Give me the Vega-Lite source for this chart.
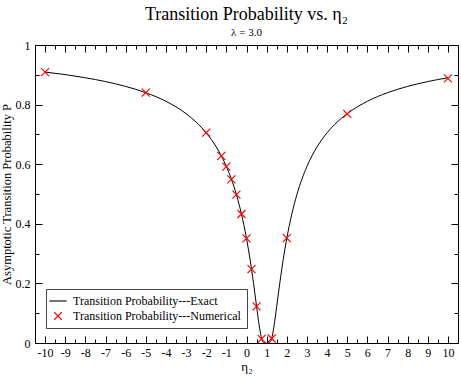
{
  "$schema": "https://vega.github.io/schema/vega-lite/v6.json",
  "width": 423,
  "height": 298,
  "padding": {"left": 0, "top": 6, "right": 3, "bottom": 2},
  "background": "white",
  "title": {
    "text": "Transition Probability vs. η₂",
    "subtitle": "λ = 3.0",
    "anchor": "middle",
    "frame": "group",
    "font": "Liberation Serif",
    "fontSize": 18,
    "fontWeight": "normal",
    "subtitleFont": "Liberation Serif",
    "subtitleFontSize": 11,
    "subtitlePadding": 3,
    "offset": 1,
    "color": "black",
    "subtitleColor": "black"
  },
  "datasets": {
    "exact": [
      {"eta": -10, "P": 0.9092}, {"eta": -9, "P": 0.9006}, {"eta": -8, "P": 0.8901},
      {"eta": -7, "P": 0.8773}, {"eta": -6, "P": 0.8611}, {"eta": -5, "P": 0.8399},
      {"eta": -4, "P": 0.8111}, {"eta": -3, "P": 0.7697}, {"eta": -2.5, "P": 0.7414},
      {"eta": -2, "P": 0.7053}, {"eta": -1.5, "P": 0.6578}, {"eta": -1.25, "P": 0.6279},
      {"eta": -1, "P": 0.5924}, {"eta": -0.75, "P": 0.5497}, {"eta": -0.5, "P": 0.4975},
      {"eta": -0.25, "P": 0.4327}, {"eta": 0, "P": 0.3509}, {"eta": 0.1, "P": 0.3124},
      {"eta": 0.25, "P": 0.2475}, {"eta": 0.35, "P": 0.1997}, {"eta": 0.4, "P": 0.1746},
      {"eta": 0.5, "P": 0.1231}, {"eta": 0.6, "P": 0.0729}, {"eta": 0.7, "P": 0.0305},
      {"eta": 0.75, "P": 0.0152}, {"eta": 0.8, "P": 0.0053}, {"eta": 0.85, "P": 0.0009},
      {"eta": 0.9, "P": 0.0}, {"eta": 1.0, "P": 0.0}, {"eta": 1.1, "P": 0.0},
      {"eta": 1.15, "P": 0.0009}, {"eta": 1.2, "P": 0.0053}, {"eta": 1.25, "P": 0.0152},
      {"eta": 1.3, "P": 0.0305}, {"eta": 1.4, "P": 0.0729}, {"eta": 1.5, "P": 0.1231},
      {"eta": 1.6, "P": 0.1746}, {"eta": 1.65, "P": 0.1997}, {"eta": 1.75, "P": 0.2475},
      {"eta": 1.9, "P": 0.3124}, {"eta": 2, "P": 0.3509}, {"eta": 2.25, "P": 0.4327},
      {"eta": 2.5, "P": 0.4975}, {"eta": 3, "P": 0.5924}, {"eta": 3.5, "P": 0.6578},
      {"eta": 4, "P": 0.7053}, {"eta": 4.5, "P": 0.7414}, {"eta": 5, "P": 0.7697},
      {"eta": 6, "P": 0.8111}, {"eta": 7, "P": 0.8399}, {"eta": 8, "P": 0.8611},
      {"eta": 9, "P": 0.8773}, {"eta": 10, "P": 0.8901}
    ],
    "num": [
      {"eta": -10, "P": 0.909, "series": "Transition Probability---Numerical"},
      {"eta": -5, "P": 0.840, "series": "Transition Probability---Numerical"},
      {"eta": -2, "P": 0.706, "series": "Transition Probability---Numerical"},
      {"eta": -1.25, "P": 0.628, "series": "Transition Probability---Numerical"},
      {"eta": -1, "P": 0.592, "series": "Transition Probability---Numerical"},
      {"eta": -0.75, "P": 0.549, "series": "Transition Probability---Numerical"},
      {"eta": -0.5, "P": 0.498, "series": "Transition Probability---Numerical"},
      {"eta": -0.25, "P": 0.433, "series": "Transition Probability---Numerical"},
      {"eta": 0, "P": 0.351, "series": "Transition Probability---Numerical"},
      {"eta": 0.25, "P": 0.248, "series": "Transition Probability---Numerical"},
      {"eta": 0.5, "P": 0.123, "series": "Transition Probability---Numerical"},
      {"eta": 0.75, "P": 0.014, "series": "Transition Probability---Numerical"},
      {"eta": 1.25, "P": 0.015, "series": "Transition Probability---Numerical"},
      {"eta": 2, "P": 0.352, "series": "Transition Probability---Numerical"},
      {"eta": 5, "P": 0.769, "series": "Transition Probability---Numerical"},
      {"eta": 10, "P": 0.888, "series": "Transition Probability---Numerical"}
    ]
  },
  "config": {
    "view": {"stroke": "black", "strokeWidth": 1},
    "font": "Liberation Serif"
  },
  "resolve": {"axis": {"x": "independent", "y": "independent"}},
  "layer": [
    {
      "data": {"name": "exact"},
      "mark": {"type": "line", "color": "black", "strokeWidth": 1, "interpolate": "monotone", "clip": true},
      "encoding": {
        "x": {"field": "eta", "type": "quantitative",
              "scale": {"domain": [-10.5, 10.5], "nice": false, "zero": false},
              "axis": {"orient": "bottom", "values": [-10,-9,-8,-7,-6,-5,-4,-3,-2,-1,0,1,2,3,4,5,6,7,8,9,10],
                       "domain": false, "grid": false, "tickColor": "black",
                       "tickSize": -7, "labelPadding": 11, "labelFlush": false, "labelOverlap": false,
                       "labelFont": "Liberation Serif", "labelFontSize": 12, "labelColor": "black",
                       "labelExpr": "replace(datum.label, '−', '-')",
                       "title": "η₂", "titleFont": "Liberation Serif", "titleFontSize": 13, "titleFontWeight": "normal",
                       "titleColor": "black", "titlePadding": 2}},
        "y": {"field": "P", "type": "quantitative",
              "scale": {"domain": [0, 1], "nice": false},
              "axis": {"orient": "left", "values": [0, 0.2, 0.4, 0.6, 0.8, 1], "format": "~g",
                       "domain": false, "grid": false, "tickColor": "black",
                       "tickSize": -7, "labelPadding": 12, "labelFlush": false, "labelOverlap": false,
                       "labelFont": "Liberation Serif", "labelFontSize": 12, "labelColor": "black",
                       "title": "Asymptotic Transition Probability    P", "titleFont": "Liberation Serif",
                       "titleFontSize": 12.5, "titleFontWeight": "normal", "titleColor": "black", "titlePadding": 2}}
      }
    },
    {
      "data": {"name": "num"},
      "mark": {"type": "point", "filled": false, "size": 64, "strokeWidth": 1.2, "opacity": 1},
      "encoding": {
        "x": {"field": "eta", "type": "quantitative",
              "scale": {"domain": [-10.5, 10.5], "nice": false, "zero": false},
              "axis": {"orient": "top", "values": [-10,-9,-8,-7,-6,-5,-4,-3,-2,-1,0,1,2,3,4,5,6,7,8,9,10],
                       "domain": false, "grid": false, "tickColor": "black",
                       "tickSize": -7, "labels": false, "title": null}},
        "y": {"field": "P", "type": "quantitative",
              "scale": {"domain": [0, 1], "nice": false},
              "axis": {"orient": "right", "values": [0, 0.2, 0.4, 0.6, 0.8, 1],
                       "domain": false, "grid": false, "tickColor": "black",
                       "tickSize": -7, "labels": false, "title": null}},
        "color": {"field": "series", "type": "nominal",
                  "scale": {"domain": ["Transition Probability---Exact", "Transition Probability---Numerical"], "range": ["black", "red"]},
                  "legend": {"orient": "none", "legendX": 11, "legendY": 244, "title": null,
                             "strokeColor": "#444", "fillColor": "white", "padding": 6,
                             "labelFont": "Liberation Serif", "labelFontSize": 12, "labelColor": "black", "labelLimit": 0,
                             "symbolSize": 56, "symbolStrokeWidth": 1.1, "rowPadding": 3, "labelOffset": 9, "offset": 0}},
        "shape": {"field": "series", "type": "nominal",
                  "scale": {"domain": ["Transition Probability---Exact", "Transition Probability---Numerical"],
                            "range": ["M-2.3,0L2.3,0", "M-1,-1L1,1M-1,1L1,-1"]},
                  "legend": {"orient": "none", "legendX": 11, "legendY": 244, "title": null}}
      }
    },
    {
      "data": {"name": "num"},
      "mark": {"type": "point", "opacity": 0},
      "encoding": {
        "x": {"field": "eta", "type": "quantitative",
              "scale": {"domain": [-10.5, 10.5], "nice": false, "zero": false},
              "axis": {"orient": "bottom", "values": [-9.5,-8.5,-7.5,-6.5,-5.5,-4.5,-3.5,-2.5,-1.5,-0.5,0.5,1.5,2.5,3.5,4.5,5.5,6.5,7.5,8.5,9.5],
                       "domain": false, "grid": false, "tickColor": "black",
                       "tickSize": -4, "labels": false, "title": null}},
        "y": {"field": "P", "type": "quantitative",
              "scale": {"domain": [0, 1], "nice": false},
              "axis": {"orient": "left", "values": [0.1, 0.3, 0.5, 0.7, 0.9],
                       "domain": false, "grid": false, "tickColor": "black",
                       "tickSize": -4, "labels": false, "title": null}}
      }
    },
    {
      "data": {"name": "num"},
      "mark": {"type": "point", "opacity": 0},
      "encoding": {
        "x": {"field": "eta", "type": "quantitative",
              "scale": {"domain": [-10.5, 10.5], "nice": false, "zero": false},
              "axis": {"orient": "top", "values": [-9.5,-8.5,-7.5,-6.5,-5.5,-4.5,-3.5,-2.5,-1.5,-0.5,0.5,1.5,2.5,3.5,4.5,5.5,6.5,7.5,8.5,9.5],
                       "domain": false, "grid": false, "tickColor": "black",
                       "tickSize": -4, "labels": false, "title": null}},
        "y": {"field": "P", "type": "quantitative",
              "scale": {"domain": [0, 1], "nice": false},
              "axis": {"orient": "right", "values": [0.1, 0.3, 0.5, 0.7, 0.9],
                       "domain": false, "grid": false, "tickColor": "black",
                       "tickSize": -4, "labels": false, "title": null}}
      }
    }
  ]
}
